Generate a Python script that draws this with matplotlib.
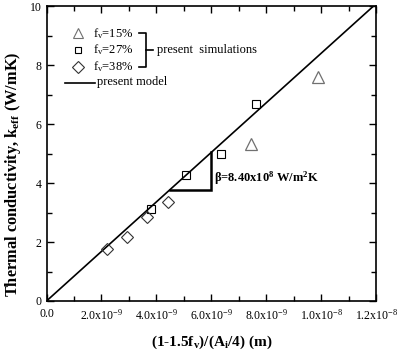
import numpy as np
import matplotlib
matplotlib.use("Agg")
import matplotlib.pyplot as plt
from matplotlib.ticker import MultipleLocator, FuncFormatter

plt.rcParams['font.family'] = 'Liberation Serif'
plt.rcParams['mathtext.fontset'] = 'custom'
plt.rcParams['mathtext.rm'] = 'Liberation Serif'
plt.rcParams['mathtext.it'] = 'Liberation Serif'
plt.rcParams['mathtext.bf'] = 'Liberation Serif:bold'
plt.rcParams['axes.unicode_minus'] = False

# simulation points: x = (1-1.5fv)/(Ai/4) in m, y = k_eff in W/mK
tri_x = [7.45e-9, 9.89e-9]          # fv = 15%
tri_y = [5.32, 7.59]
sq_x = [3.80e-9, 5.06e-9, 6.34e-9, 7.63e-9]   # fv = 27%
sq_y = [3.11, 4.28, 4.99, 6.68]
dia_x = [2.21e-9, 2.92e-9, 3.67e-9, 4.41e-9]  # fv = 38%
dia_y = [1.76, 2.18, 2.86, 3.37]

beta = 8.40e8
model_x = [0.0, 1.2e-8]
slope_x = [4.5e-9, 6.0e-9]

fig = plt.figure(figsize=(4.01, 3.56), dpi=100)
ax = fig.add_axes([0.116, 0.1545, 0.822, 0.8285])

mx = np.array(model_x)
ax.plot(mx, beta * mx, color='black', lw=1.2, clip_on=True)

# slope triangle
x0, x1 = slope_x
ax.plot([x0, x1, x1], [beta * x0, beta * x0, beta * x1], color='black', lw=1.8, solid_joinstyle='miter')
ax.text(x1 + 0.1e-9, beta * x0 + 0.38, r'$\mathbf{\beta}$=8.40x10$^{\mathregular{8}}$ W/m$^{\mathregular{2}}$K',
        fontsize=9, fontweight='bold', va='center', ha='left')

ax.plot(tri_x, tri_y, linestyle='none', marker='^', ms=8, mfc='white', mec='#707070', mew=0.9)
ax.plot(sq_x, sq_y, linestyle='none', marker='s', ms=5.5, mfc='none', mec='black', mew=0.8)
ax.plot(dia_x, dia_y, linestyle='none', marker='D', ms=6, mfc='none', mec='#333333', mew=0.8)

# hand-made legend in axes coordinates
leg_rows = [('^', 7, '#707070', r'f$_\mathregular{v}$=15%'),
            ('s', 5, 'black', r'f$_\mathregular{v}$=27%'),
            ('D', 6, '#333333', r'f$_\mathregular{v}$=38%')]
row_y = [0.907, 0.852, 0.795]
for (m, s, c, lab), yy in zip(leg_rows, row_y):
    ax.plot([0.095], [yy], transform=ax.transAxes, marker=m, ms=s, mfc='none', mec=c, mew=0.8, linestyle='none')
    ax.text(0.14, yy, lab, transform=ax.transAxes, fontsize=9, va='center', ha='left')
bx = 0.302
ax.plot([bx - 0.02, bx, bx, bx - 0.02], [row_y[0], row_y[0], row_y[2], row_y[2]], transform=ax.transAxes,
        color='black', lw=1.2)
ax.plot([bx, bx + 0.02], [row_y[1], row_y[1]], transform=ax.transAxes, color='black', lw=1.2)
ax.text(bx + 0.033, row_y[1], 'present  simulations', transform=ax.transAxes, fontsize=9, va='center', ha='left')
ax.plot([0.056, 0.148], [0.74, 0.74], transform=ax.transAxes, color='black', lw=1.2)
ax.text(0.152, 0.742, 'present model', transform=ax.transAxes, fontsize=9, va='center', ha='left')

ax.set_xlim(0, 1.2e-8)
ax.set_ylim(0, 10)
ax.xaxis.set_major_locator(MultipleLocator(2e-9))
ax.xaxis.set_minor_locator(MultipleLocator(1e-9))
ax.yaxis.set_major_locator(MultipleLocator(2))
ax.yaxis.set_minor_locator(MultipleLocator(1))


def xfmt(v, pos):
    if abs(v) < 1e-15:
        return '0.0'
    e = int(np.floor(np.log10(abs(v)) + 1e-9))
    return r'%.1fx10$^{\mathregular{%d}}$' % (v / 10 ** e, e)


ax.xaxis.set_major_formatter(FuncFormatter(xfmt))
ax.yaxis.set_major_formatter(FuncFormatter(lambda v, p: '%d' % v))
ax.tick_params(which='both', direction='in', top=True, right=True, labelsize=8.5, width=1)
ax.tick_params(which='major', length=5)
ax.tick_params(which='minor', length=3.5)
ax.tick_params(axis='x', pad=5)
for sp in ax.spines.values():
    sp.set_linewidth(1.2)

ax.set_xlabel(r'(1-1.5f$_\mathbf{v}$)/(A$_\mathbf{i}$/4) (m)', fontsize=11, fontweight='bold', labelpad=8)
ax.set_ylabel(r'Thermal conductivity, k$_\mathbf{eff}$ (W/mK)', fontsize=11.8, fontweight='bold')
ax.yaxis.set_label_coords(-0.072, 0.43)

fig.savefig('out.png', dpi=100)
